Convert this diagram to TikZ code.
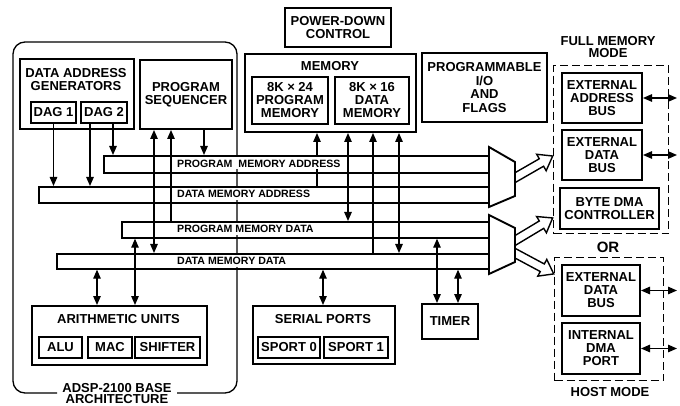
\documentclass[tikz,border=0pt]{standalone}
\usepackage{fontspec}
\setmainfont{Liberation Sans}
\usetikzlibrary{arrows.meta,calc}
\newcommand\holarrow[3]{\draw[line width=1.4pt, fill=white, line join=miter, shift={#1}, rotate=#2] (0,-4.3) -- ({#3-13},-4.3) -- ({#3-13},-9.5) -- (#3,0) -- ({#3-13},9.5) -- ({#3-13},4.3) -- (0,4.3);}
\begin{document}
\begin{tikzpicture}[x=1pt,y=-1pt,
  >={Triangle[length=9pt,width=7.5pt]},
  box/.style={draw, line width=2pt, inner sep=0pt, anchor=north west, align=center, font=\fontsize{13}{13}\selectfont\bfseries},
  txt/.style={align=center, inner sep=0pt, font=\fontsize{13}{13}\selectfont\bfseries},
  busbox/.style={draw, line width=1.7pt, inner sep=0pt, anchor=north west},
  buslbl/.style={fill=white, inner xsep=2pt, inner ysep=0pt, minimum height=12pt, text height=7.6pt, text depth=0pt, anchor=west, font=\fontsize{10.6}{10.6}\selectfont\bfseries},
  conn/.style={line width=1.3pt},
  dashbox/.style={draw, line width=1.4pt, dash pattern=on 8pt off 4pt, inner sep=0pt, anchor=north west},
  mux/.style={line width=1.9pt, fill=white, line join=miter},
]
\useasboundingbox (0,0) rectangle (680,406);

% base architecture
\draw[conn, rounded corners=12pt] (57,393) -- (13,393) -- (13,42) -- (237,42) -- (237,393) -- (177,393);
\node[txt, font=\fontsize{13}{11.5}\selectfont\bfseries] (basel) at (117,393.5) {ADSP-2100 BASE\\ARCHITECTURE};

% data address generators
\node[box, minimum width=114pt, minimum height=70pt] (dag) at (19,58) {};
\node[txt] (dagt) at (76,79.5) {DATA ADDRESS\\GENERATORS};
\node[box, minimum width=45pt, minimum height=21pt] (dag1) at (30,101) {DAG 1};
\node[box, minimum width=46pt, minimum height=21pt] (dag2) at (80,101) {DAG 2};

% program sequencer
\node[box, minimum width=92pt, minimum height=69pt] (seq) at (139,59) {PROGRAM\\SEQUENCER};

% power down
\node[box, minimum width=106pt, minimum height=39pt] (pd) at (284,7) {POWER-DOWN\\CONTROL};

% memory
\node[box, minimum width=171pt, minimum height=78pt] (mem) at (244,53) {};
\node[txt] (memt) at (330,66) {MEMORY};
\node[box, minimum width=76pt, minimum height=47pt] (pm) at (251,76) {8K × 24\\PROGRAM\\MEMORY};
\node[box, minimum width=74pt, minimum height=47pt] (dm) at (334,76) {8K × 16\\DATA\\MEMORY};

% programmable IO
\node[box, minimum width=125pt, minimum height=69pt, font=\fontsize{13}{13.5}\selectfont\bfseries] (pio) at (421,52) {PROGRAMMABLE\\I/O\\AND\\FLAGS};

% full memory mode
\node[txt, font=\fontsize{13}{12}\selectfont\bfseries] (fmt) at (608,47.5) {FULL MEMORY\\MODE};
\node[dashbox, minimum width=115pt, minimum height=168pt] (fm) at (553,65) {};
\node[box, minimum width=80pt, minimum height=50pt] (eab) at (561,72) {EXTERNAL\\ADDRESS\\BUS};
\node[box, minimum width=80pt, minimum height=50pt] (edb) at (561,129) {EXTERNAL\\DATA\\BUS};
\node[box, minimum width=99pt, minimum height=41pt] (bdma) at (559,187) {BYTE DMA\\CONTROLLER};

\node[txt, font=\fontsize{15}{15}\selectfont\bfseries] (or) at (608,247) {OR};

% host mode
\node[dashbox, minimum width=109pt, minimum height=123pt] (hm) at (554,257) {};
\node[box, minimum width=78pt, minimum height=51pt] (hedb) at (561,264) {EXTERNAL\\DATA\\BUS};
\node[box, minimum width=78pt, minimum height=51pt] (idma) at (561,322) {INTERNAL\\DMA\\PORT};
\node[txt] (hmt) at (610,392) {HOST MODE};

% arithmetic units
\node[box, minimum width=175pt, minimum height=59pt] (au) at (31,305) {};
\node[txt] (aut) at (118.5,319.5) {ARITHMETIC UNITS};
\node[box, minimum width=43pt, minimum height=21pt] (alu) at (38,336) {ALU};
\node[box, minimum width=44pt, minimum height=21pt] (mac) at (87,336) {MAC};
\node[box, minimum width=65pt, minimum height=21pt] (shf) at (134,336) {SHIFTER};

% serial ports
\node[box, minimum width=142pt, minimum height=58pt] (sp) at (252,305) {};
\node[txt] (spt) at (323,319.5) {SERIAL PORTS};
\node[box, minimum width=62pt, minimum height=21pt] (sp0) at (257,336) {SPORT 0};
\node[box, minimum width=64pt, minimum height=21pt] (sp1) at (323,336) {SPORT 1};

% timer
\node[box, minimum width=56pt, minimum height=35pt] (tim) at (421,303) {TIMER};

% buses
\node[busbox, minimum width=386pt, minimum height=17pt] (pma) at (103,155) {};
\node[busbox, minimum width=451pt, minimum height=16pt] (dma) at (38,186) {};
\node[busbox, minimum width=368pt, minimum height=16pt] (pmd) at (121,221) {};
\node[busbox, minimum width=433pt, minimum height=15pt] (dmd) at (56,253) {};

% x positions of connectors
\foreach \xx in {90,113,154,171,204,317,348,373,399,97,135,323,437,458,677}
  \coordinate (x\xx) at (\xx,0);

% connectors
\draw[conn,->] (dag1.south) -- (dag1.south |- dma.north);
\draw[conn,->] (dag2.south -| x90) -- (dma.north -| x90);
\draw[conn,->] (dag2.south -| x113) -- (pma.north -| x113);
\draw[conn,<->] (seq.south -| x154) -- (dmd.north -| x154);
\draw[conn,->] (pmd.north -| x171) -- (seq.south -| x171);
\draw[conn,->] (seq.south -| x204) -- (pma.north -| x204);
\draw[conn,->] (dma.north -| x317) -- (mem.south -| x317);
\draw[conn,<->] (mem.south -| x348) -- (pmd.north -| x348);
\draw[conn,->] (dmd.north -| x373) -- (mem.south -| x373);
\draw[conn,<->] (mem.south -| x399) -- (dmd.north -| x399);
\draw[conn,<->] (dmd.south -| x97) -- (au.north -| x97);
\draw[conn,<->] (pmd.south -| x135) -- (au.north -| x135);
\draw[conn,<->] (dmd.south -| x323) -- (sp.north -| x323);
\draw[conn,<->] (pmd.south -| x437) -- (tim.north -| x437);
\draw[conn,<->] (dmd.south -| x458) -- (tim.north -| x458);

\draw[conn,<->] (eab.east) -- (eab.east -| x677);
\draw[conn,<->] (edb.east) -- (edb.east -| x677);
\draw[conn,<->] (hedb.east) -- (hedb.east -| x677);
\draw[conn,<->] (idma.east) -- (idma.east -| x677);

% bus labels
\node[buslbl] (pmal) at (175,163.5) {PROGRAM\ \ MEMORY ADDRESS};
\node[buslbl] (dmal) at (175,194) {DATA MEMORY ADDRESS};
\node[buslbl] (pmdl) at (175,229) {PROGRAM MEMORY DATA};
\node[buslbl] (dmdl) at (175,260.5) {DATA MEMORY DATA};

% hollow arrows
\holarrow{(511,180)}{29.9}{48.1}
\holarrow{(511,243)}{31.0}{48.6}
\holarrow{(511,251)}{-28.2}{48.5}

% multiplexers
\draw[mux] (489,147) -- (515,162) -- (515,196) -- (489,207) -- cycle;
\draw[mux] (489,215) -- (515,228) -- (515,262) -- (489,274) -- cycle;

\end{tikzpicture}
\end{document}
